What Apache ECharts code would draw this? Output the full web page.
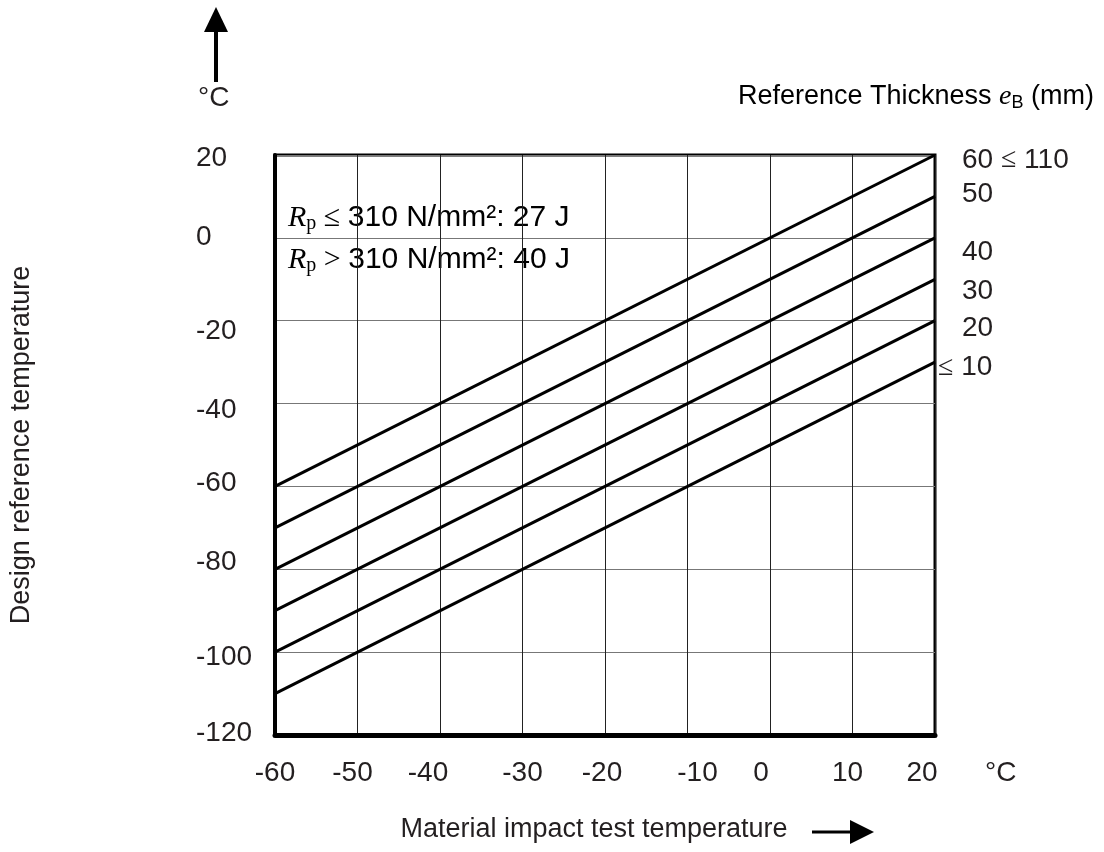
<!DOCTYPE html>
<html>
<head>
<meta charset="utf-8">
<script src="https://cdn.jsdelivr.net/npm/echarts@6/dist/echarts.min.js"></script>
<style>
  html, body { margin: 0; padding: 0; background: #fff; }
  #chart { width: 1104px; height: 852px; }
</style>
</head>
<body>
<div id="chart"></div>
<script>
// impact test temperature (x) at the two ends of every line
var impactTemp = [-60, 20];
// design reference temperature (y) per reference thickness
var ref110 = [-60, 20];
var ref50 = [-70, 10];
var ref40 = [-80, 0];
var ref30 = [-90, -10];
var ref20 = [-100, -20];
var ref10 = [-110, -30];
var thicknessNames = ['60 \u2264 110', '50', '40', '30', '20', '\u2264 10'];

var refLines = [ref110, ref50, ref40, ref30, ref20, ref10];

var SANS = '"Liberation Sans", Arial, sans-serif';
var SERIF = '"Liberation Serif", "Times New Roman", serif';
var INK = '#231f20';

// small nudges so tick labels sit where the scanned figure puts them
var xNudge = {'-60': 0, '-50': -5, '-40': -12, '-30': 0, '-20': -3, '-10': 10, '0': -9, '10': -5, '20': -13};
var yNudge = {'20': 3, '0': -1, '-20': 11, '-40': 7, '-60': -3, '-80': -7, '-100': 5, '-120': -2};
// end label placement: [distance from right border, vertical offset]
var endPlace = [[27, 5], [27, -2], [27, 14], [27, 12], [27, 8], [3, 5]];

function key(v) {
    return (v < 0 ? 'm' : 'p') + Math.abs(v);
}

var xRich = {};
Object.keys(xNudge).forEach(function (k) {
    var d = xNudge[k];
    xRich[key(+k)] = {
        fontFamily: SANS, fontSize: 28, color: INK,
        padding: d >= 0 ? [0, 0, 0, 2 * d] : [0, -2 * d, 0, 0]
    };
});
var yRich = {};
Object.keys(yNudge).forEach(function (k) {
    var d = yNudge[k];
    yRich[key(+k)] = {
        fontFamily: SANS, fontSize: 28, color: INK,
        padding: d >= 0 ? [2 * d, 0, 0, 0] : [0, 0, -2 * d, 0]
    };
});

// the "≤" in the scan is a thin serif symbol
function endText(name) {
    return name.split('\u2264').map(function (part) {
        return part ? '{n|' + part + '}' : '';
    }).join('{le|\u2264}');
}

var chart = echarts.init(document.getElementById('chart'));

var series = refLines.map(function (vals, i) {
    return {
        type: 'line',
        name: thicknessNames[i],
        data: impactTemp.map(function (x, j) { return [x, vals[j]]; }),
        symbol: 'none',
        silent: true,
        lineStyle: { color: '#000', width: 3 },
        endLabel: {
            show: true,
            formatter: endText(thicknessNames[i]),
            distance: endPlace[i][0],
            offset: [0, endPlace[i][1]],
            rich: {
                n: { fontFamily: SANS, fontSize: 28, color: INK },
                le: { fontFamily: SERIF, fontSize: 28, color: INK }
            }
        }
    };
});

var option = {
    animation: false,
    backgroundColor: '#fff',
    grid: {
        left: 275, right: 169, top: 155, bottom: 117,
        show: true, borderColor: '#000', borderWidth: 3
    },
    xAxis: {
        type: 'value',
        min: -60, max: 20, interval: 10,
        name: 'Material impact test temperature',
        nameLocation: 'middle',
        nameGap: 81,
        nameTextStyle: { fontFamily: SANS, fontSize: 27, color: INK, padding: [0, 22, 0, 0] },
        axisLine: { onZero: false, lineStyle: { color: '#000', width: 5 } },
        axisTick: { show: false },
        axisLabel: {
            margin: 24,
            formatter: function (v) { return '{' + key(v) + '|' + v + '}'; },
            rich: xRich
        },
        splitLine: { lineStyle: { color: '#222', width: 1 } }
    },
    yAxis: {
        type: 'value',
        min: -120, max: 20, interval: 20,
        name: 'Design reference temperature',
        nameLocation: 'middle',
        nameGap: 240,
        nameTextStyle: { fontFamily: SANS, fontSize: 27, color: INK },
        axisLine: { onZero: false, lineStyle: { color: '#000', width: 4 } },
        axisTick: { show: false },
        axisLabel: {
            margin: 79,
            align: 'left',
            formatter: function (v) { return '{' + key(v) + '|' + v + '}'; },
            rich: yRich
        },
        splitLine: { lineStyle: { color: '#777', width: 1 } }
    },
    series: series,
    graphic: [
        // up arrow above the y axis unit
        { type: 'line', shape: { x1: 216, y1: 82, x2: 216, y2: 28 }, style: { stroke: '#000', lineWidth: 4 } },
        { type: 'polygon', shape: { points: [[204, 32], [228, 32], [216, 7]] }, style: { fill: '#000' } },
        { type: 'text', x: 198, y: 98, style: { text: '\u00b0C', font: '28px ' + SANS, fill: INK, verticalAlign: 'middle' } },
        // x unit
        { type: 'text', x: 985, y: 773, style: { text: '\u00b0C', font: '28px ' + SANS, fill: INK, verticalAlign: 'middle' } },
        // right arrow after x axis name
        { type: 'line', shape: { x1: 812, y1: 832, x2: 852, y2: 832 }, style: { stroke: '#000', lineWidth: 3 } },
        { type: 'polygon', shape: { points: [[850, 820], [850, 844], [874, 832]] }, style: { fill: '#000' } },
        // header for the line labels
        {
            type: 'text', x: 1094, y: 97,
            style: {
                text: '{a|Reference Thickness }{e|e}{b|B}{a| (mm)}',
                align: 'right', verticalAlign: 'middle',
                rich: {
                    a: { fontFamily: SANS, fontSize: 27, color: INK },
                    e: { fontFamily: SERIF, fontStyle: 'italic', fontSize: 28, color: INK },
                    b: { fontFamily: SANS, fontSize: 18, color: INK, padding: [12, 0, 0, 0] }
                }
            }
        },
        {
            type: 'text', x: 288, y: 218,
            style: {
                text: '{r|R}{s|p}{o| \u2264 }{t|310 N/mm\u00b2: 27 J}',
                verticalAlign: 'middle',
                rich: {
                    r: { fontFamily: SERIF, fontStyle: 'italic', fontSize: 30, color: INK },
                    s: { fontFamily: SERIF, fontSize: 20, color: INK, padding: [12, 0, 0, 0] },
                    o: { fontFamily: SERIF, fontSize: 30, color: INK },
                    t: { fontFamily: SANS, fontSize: 30, color: INK }
                }
            }
        },
        {
            type: 'text', x: 288, y: 260,
            style: {
                text: '{r|R}{s|p}{o| > }{t|310 N/mm\u00b2: 40 J}',
                verticalAlign: 'middle',
                rich: {
                    r: { fontFamily: SERIF, fontStyle: 'italic', fontSize: 30, color: INK },
                    s: { fontFamily: SERIF, fontSize: 20, color: INK, padding: [12, 0, 0, 0] },
                    o: { fontFamily: SERIF, fontSize: 30, color: INK },
                    t: { fontFamily: SANS, fontSize: 30, color: INK }
                }
            }
        }
    ]
};

chart.setOption(option);
</script>
</body>
</html>
